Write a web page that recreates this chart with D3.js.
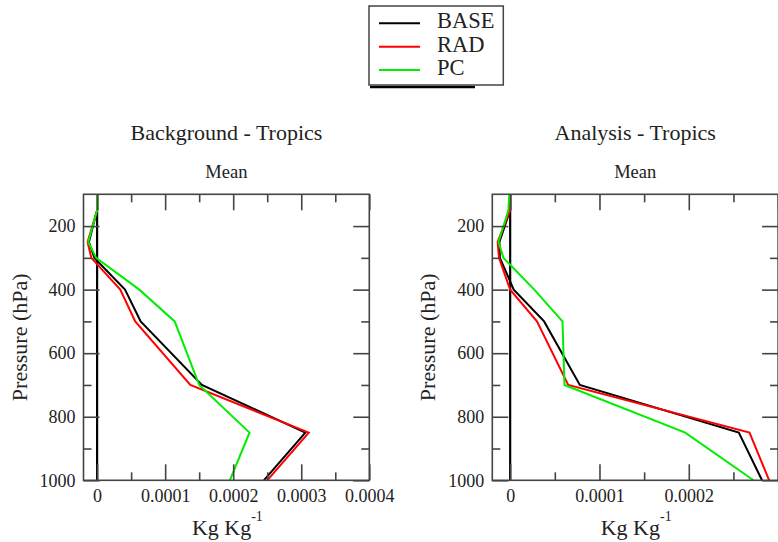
<!DOCTYPE html>
<html><head><meta charset="utf-8">
<script src="https://cdn.jsdelivr.net/npm/d3@7"></script>
<style>
html,body{margin:0;padding:0;background:#fff;}
svg{display:block;font-family:"Liberation Serif","Times New Roman",serif;}
</style></head>
<body><svg id="chart" width="778" height="542"></svg>
<script>
// ---- data ----
const pressureLevels = [100, 150, 250, 300, 400, 500, 700, 850, 1000];
const seriesNames = ["BASE", "RAD", "PC"];
const seriesColors = ["#000000", "#ff0000", "#00ee00"];

const bgBASE = [0, 0, -0.000012, -0.000004, 0.000041, 0.000064, 0.000154, 0.000306, 0.000245];
const bgRAD  = [0, 0, -0.000014, -0.0000085, 0.000034, 0.000056, 0.000137, 0.000311, 0.00025];
const bgPC   = [0, 0, -0.000013, -0.0000015, 0.000062, 0.000114, 0.00015, 0.000224, 0.000195];

const anBASE = [0, 0, -0.000012, -0.0000115, 0.000004, 0.000038, 0.000078, 0.000256, 0.000282];
const anRAD  = [0, 0, -0.000014, -0.0000125, 0.0, 0.00003, 0.000065, 0.000268, 0.00029];
const anPC   = [-0.000001, -0.000002, -0.000013, -0.0000075, 0.000027, 0.0000586, 0.0000608, 0.000196, 0.0002725];

const panelTitles = ["Background - Tropics", "Analysis - Tropics"];
const panelSubtitle = "Mean";
const yTickLabels = [200, 400, 600, 800, 1000];
const yMinorTicks = [300, 500, 700, 900];
const bgXTicks = [0, 0.0001, 0.0002, 0.0003, 0.0004];
const bgXMinor = [0.00005, 0.00015, 0.00025, 0.00035];
const anXTicks = [0, 0.0001, 0.0002];
const anXTicksAll = [0, 0.0001, 0.0002, 0.0003];
const anXMinor = [0.00005, 0.00015, 0.00025];
const xLabel = "Kg Kg";
const xLabelSup = "-1";
const yLabel = "Pressure (hPa)";

// ---- drawing ----
const svg = d3.select("#chart");
const W = 285.8, H = 286;
const panels = [
  {left: 83.5, top: 194.3, domain: [-0.00002, 0.0004], ticks: bgXTicks, tickAll: bgXTicks, minor: bgXMinor,
   series: [bgBASE, bgRAD, bgPC], title: panelTitles[0]},
  {left: 492.3, top: 194.3, domain: [-0.00002, 0.0003], ticks: anXTicks, tickAll: anXTicksAll, minor: anXMinor,
   series: [anBASE, anRAD, anPC], title: panelTitles[1]}
];
const frameColor = "#444";
const textColor = "#222";

panels.forEach(p => {
  const g = svg.append("g").attr("transform", `translate(${p.left},${p.top})`);
  const x = d3.scaleLinear().domain(p.domain).range([0, W]);
  const y = d3.scaleLinear().domain([100, 1000]).range([0, H]);

  // zero line
  g.append("line").attr("x1", x(0)).attr("x2", x(0)).attr("y1", y(100)).attr("y2", y(1000))
    .attr("stroke", "#000").attr("stroke-width", 2.2);

  // series
  const line = d3.line().x(d => x(d[0])).y(d => y(d[1]));
  p.series.forEach((vals, i) => {
    g.append("path").datum(vals.map((v, k) => [v, pressureLevels[k]]))
      .attr("d", line).attr("fill", "none").attr("stroke", seriesColors[i])
      .attr("stroke-width", 2).attr("stroke-linejoin", "miter");
  });

  const fmt = d => d === 0 ? "0" : d.toFixed(4);
  const styleAxis = sel => {
    sel.attr("font-family", null).attr("font-size", null);
    sel.select(".domain").remove();
    sel.selectAll(".tick line").attr("stroke", frameColor).attr("stroke-width", 1.6);
    sel.selectAll(".tick text").attr("fill", textColor).attr("font-size", 18);
  };
  // bottom
  g.append("g").attr("transform", `translate(0,${H})`)
    .call(d3.axisBottom(x).tickValues(p.ticks).tickSize(-16).tickPadding(9).tickFormat(fmt)).call(styleAxis);
  g.append("g").attr("transform", `translate(0,${H})`)
    .call(d3.axisBottom(x).tickValues(p.minor).tickSize(-8).tickFormat("")).call(styleAxis);
  // top
  g.append("g").call(d3.axisTop(x).tickValues(p.tickAll).tickSize(-16).tickFormat("")).call(styleAxis);
  g.append("g").call(d3.axisTop(x).tickValues(p.minor).tickSize(-8).tickFormat("")).call(styleAxis);
  // left
  g.append("g").call(d3.axisLeft(y).tickValues(yTickLabels).tickSize(-16).tickPadding(8).tickFormat(d3.format("d"))).call(styleAxis);
  g.append("g").call(d3.axisLeft(y).tickValues(yMinorTicks).tickSize(-8).tickFormat("")).call(styleAxis);
  // right
  g.append("g").attr("transform", `translate(${W},0)`)
    .call(d3.axisRight(y).tickValues(yTickLabels).tickSize(-16).tickFormat("")).call(styleAxis);
  g.append("g").attr("transform", `translate(${W},0)`)
    .call(d3.axisRight(y).tickValues(yMinorTicks).tickSize(-8).tickFormat("")).call(styleAxis);

  // frame
  g.append("rect").attr("width", W).attr("height", H).attr("fill", "none")
    .attr("stroke", frameColor).attr("stroke-width", 1.6);

  // titles
  g.append("text").attr("x", W / 2).attr("y", 140 - p.top).attr("text-anchor", "middle")
    .attr("font-size", 22).attr("fill", textColor).text(p.title);
  g.append("text").attr("x", W / 2).attr("y", 178 - p.top).attr("text-anchor", "middle")
    .attr("font-size", 18.5).attr("fill", textColor).text(panelSubtitle);

  // x label
  const xl = g.append("text").attr("x", W / 2 + 1).attr("y", 535 - p.top).attr("text-anchor", "middle")
    .attr("font-size", 22).attr("fill", textColor);
  xl.append("tspan").text(xLabel);
  xl.append("tspan").attr("dy", -14).attr("font-size", 14).text(xLabelSup);

  // y label
  g.append("text").attr("transform", `translate(${-57},${H / 2}) rotate(-90)`)
    .attr("text-anchor", "middle").attr("font-size", 22).attr("fill", textColor).text(yLabel);
});

// legend
const lg = svg.append("g");
lg.append("line").attr("x1", 370).attr("x2", 475).attr("y1", 87).attr("y2", 87)
  .attr("stroke", "#000").attr("stroke-width", 2.5);
lg.append("rect").attr("x", 369).attr("y", 6).attr("width", 134.3).attr("height", 79)
  .attr("fill", "#fff").attr("stroke", frameColor).attr("stroke-width", 1.5);
seriesNames.forEach((name, i) => {
  const yy = 23.3 + i * 23.4;
  lg.append("line").attr("x1", 379).attr("x2", 420).attr("y1", yy).attr("y2", yy)
    .attr("stroke", seriesColors[i]).attr("stroke-width", 2);
  lg.append("text").attr("x", 437).attr("y", yy + 5).attr("font-size", 22.5)
    .attr("fill", textColor).text(name);
});
</script></body></html>
